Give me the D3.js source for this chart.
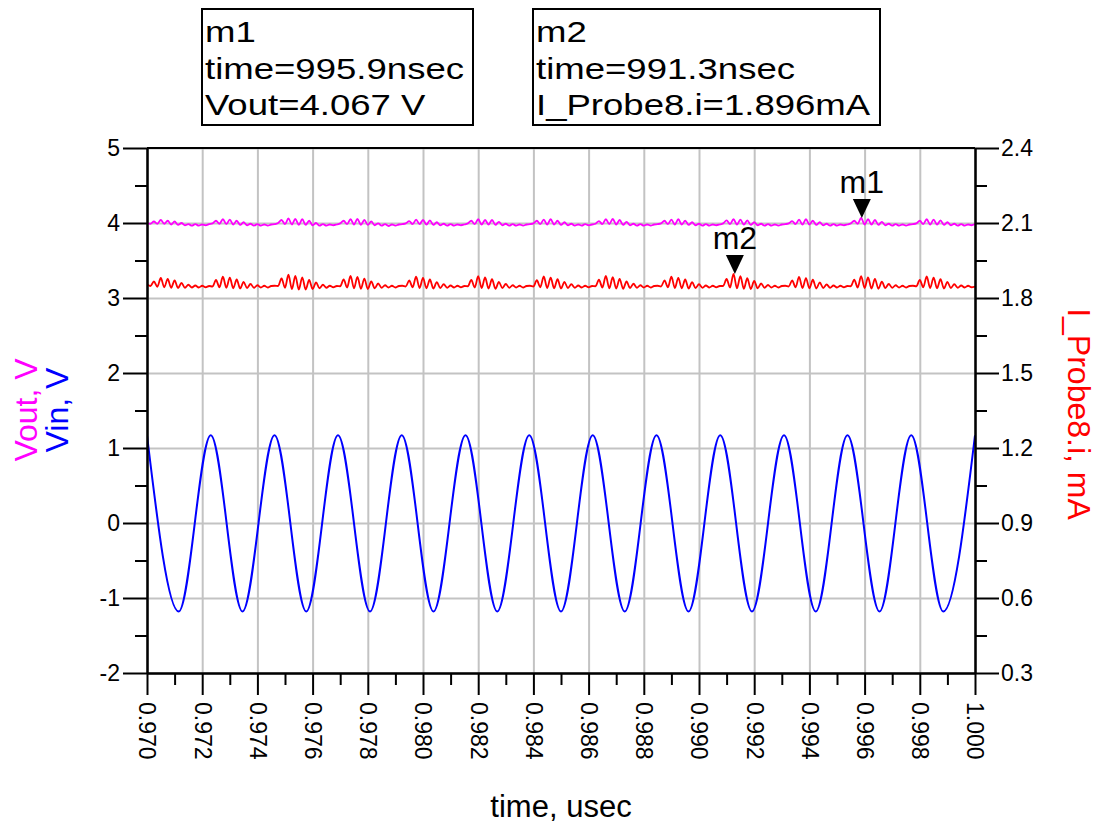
<!DOCTYPE html>
<html>
<head>
<meta charset="utf-8">
<script src="https://cdn.jsdelivr.net/npm/d3@7"></script>
<style>
  body { margin: 0; background: #fff; }
  svg { display: block; font-family: "Liberation Sans", Arial, sans-serif; }
</style>
</head>
<body>
<script>
// tick labels
var xTickValues = [0.970, 0.972, 0.974, 0.976, 0.978, 0.980, 0.982, 0.984, 0.986, 0.988, 0.990, 0.992, 0.994, 0.996, 0.998, 1.000];
var leftTickValues = [-2, -1, 0, 1, 2, 3, 4, 5];
var rightTickValues = [0.3, 0.6, 0.9, 1.2, 1.5, 1.8, 2.1, 2.4];

// Vin, peaks and troughs (usec, V)
var vinTime = [0.97000, 0.97115, 0.97231, 0.97346, 0.97462, 0.97577, 0.97692, 0.97808, 0.97923, 0.98038,
  0.98154, 0.98269, 0.98385, 0.98500, 0.98615, 0.98731, 0.98846, 0.98962, 0.99077, 0.99192,
  0.99308, 0.99423, 0.99538, 0.99654, 0.99769, 0.99885, 1.00000];
var vinVolt = [1.17, -1.18, 1.17, -1.18, 1.17, -1.18, 1.17, -1.18, 1.17, -1.18,
  1.17, -1.18, 1.17, -1.18, 1.17, -1.18, 1.17, -1.18, 1.17, -1.18,
  1.17, -1.18, 1.17, -1.18, 1.17, -1.18, 1.17];

// Vout and I_Probe8.i, one value every 0.125 nsec starting at 970 nsec
var sampleStart = 0.970;
var sampleStep = 0.000125;

var voutVolt = [
  4.00,3.99,4.02,3.99,4.04,3.99,4.03,3.98,4.02,3.975,4.00,3.97,3.985,3.965,3.985,3.965,3.98,3.97,
  3.985,3.995,4.03,3.99,4.05,3.985,4.045,3.98,4.03,3.975,4.01,3.97,3.99,3.965,3.985,3.965,3.98,3.965,3.98,
  3.985,4.00,4.04,3.985,4.06,3.98,4.055,3.975,4.05,3.975,4.03,3.97,4.00,3.965,3.985,3.965,3.98,3.97,
  3.98,3.995,4.03,3.985,4.05,3.98,4.055,3.975,4.04,3.975,4.02,3.97,3.995,3.965,3.985,3.96,3.98,3.965,3.98,
  3.985,3.995,4.025,3.985,4.045,3.985,4.04,3.98,4.035,3.975,4.01,3.97,3.99,3.965,3.985,3.965,3.98,3.97,
  3.98,3.995,4.03,3.985,4.05,3.98,4.04,3.98,4.04,3.975,4.015,3.97,3.99,3.965,3.985,3.965,3.98,3.965,3.98,
  3.985,3.995,4.03,3.985,4.045,3.98,4.05,3.98,4.03,3.975,4.01,3.97,3.99,3.965,3.98,3.965,3.985,3.97,
  3.98,3.99,4.025,3.985,4.05,3.985,4.055,3.98,4.04,3.975,4.015,3.97,3.99,3.965,3.985,3.965,3.98,3.965,3.98,
  3.985,3.995,4.03,3.985,4.045,3.98,4.05,3.98,4.03,3.975,4.01,3.97,3.99,3.965,3.985,3.965,3.98,3.97,
  3.98,3.995,4.035,3.985,4.05,3.98,4.045,3.98,4.035,3.975,4.01,3.97,3.99,3.965,3.985,3.965,3.98,3.965,3.98,
  3.985,3.995,4.025,3.985,4.045,3.98,4.05,3.98,4.03,3.975,4.01,3.97,3.99,3.965,3.985,3.965,3.98,3.97,
  3.98,3.995,4.03,3.99,4.067,3.98,4.05,3.98,4.04,3.975,4.015,3.97,3.99,3.965,3.985,3.965,3.98,3.965,3.98,
  3.985,3.995,4.03,3.985,4.05,3.98,4.045,3.98,4.035,3.975,4.01,3.97,3.99,3.965,3.985,3.965,3.98,3.97,
  3.985
];

var probeCurrent = [
  1.855,1.848,1.866,1.845,1.880,1.843,1.876,1.841,1.870,1.840,1.860,1.841,1.853,1.842,1.850,1.842,1.849,1.843,
  1.848,1.846,1.872,1.843,1.885,1.841,1.881,1.839,1.874,1.838,1.864,1.840,1.856,1.841,1.851,1.842,1.849,1.842,1.848,
  1.849,1.848,1.878,1.841,1.893,1.836,1.888,1.834,1.882,1.834,1.872,1.836,1.862,1.839,1.853,1.841,1.849,1.843,
  1.848,1.847,1.874,1.842,1.888,1.839,1.884,1.837,1.877,1.836,1.866,1.839,1.858,1.841,1.851,1.842,1.849,1.842,1.848,
  1.849,1.846,1.870,1.843,1.885,1.840,1.880,1.839,1.874,1.838,1.863,1.840,1.855,1.841,1.850,1.842,1.849,1.843,
  1.848,1.847,1.872,1.842,1.887,1.840,1.882,1.838,1.875,1.837,1.864,1.840,1.856,1.841,1.851,1.842,1.849,1.842,1.848,
  1.849,1.846,1.871,1.843,1.886,1.840,1.881,1.839,1.875,1.838,1.864,1.840,1.855,1.841,1.850,1.842,1.849,1.843,
  1.848,1.847,1.873,1.842,1.888,1.839,1.883,1.838,1.876,1.837,1.866,1.840,1.857,1.841,1.851,1.842,1.849,1.842,1.848,
  1.849,1.846,1.870,1.843,1.885,1.840,1.880,1.839,1.874,1.838,1.863,1.840,1.855,1.841,1.850,1.842,1.849,1.843,
  1.848,1.848,1.876,1.842,1.896,1.839,1.887,1.837,1.879,1.836,1.868,1.839,1.858,1.841,1.852,1.842,1.849,1.842,1.848,
  1.849,1.846,1.870,1.843,1.884,1.840,1.879,1.839,1.873,1.838,1.862,1.840,1.854,1.841,1.850,1.842,1.849,1.843,
  1.848,1.847,1.873,1.842,1.887,1.840,1.882,1.838,1.876,1.837,1.865,1.840,1.856,1.841,1.851,1.842,1.849,1.842,1.848,
  1.849,1.847,1.872,1.843,1.886,1.840,1.881,1.839,1.875,1.838,1.864,1.840,1.855,1.841,1.850,1.842,1.849,1.843,
  1.846
];

// markers
var markerNames = ["m1", "m2"];
var markerTime = [0.9959, 0.9913];
var markerValue = [4.067, 1.896];
var markerSide = ["left", "right"];
var markerLines = [
  ["m1", "time=995.9nsec", "Vout=4.067 V"],
  ["m2", "time=991.3nsec", "I_Probe8.i=1.896mA"]
];

var svgWidth = 1097;
var svgHeight = 823;
var plot = { left: 147, right: 975, top: 148, bottom: 673 };
var plotH = plot.bottom - plot.top;
var plotW = plot.right - plot.left;

var svg = d3.select("body")
  .append("svg")
  .attr("width", svgWidth)
  .attr("height", svgHeight);

var x = d3.scaleLinear().domain([0.970, 1.000]).range([plot.left, plot.right]);
var yLeft = d3.scaleLinear().domain([-2, 5]).range([plot.bottom, plot.top]);
var yRight = d3.scaleLinear().domain([0.3, 2.4]).range([plot.bottom, plot.top]);

// grid lines
svg.append("g")
  .attr("transform", `translate(0, ${plot.bottom})`)
  .call(d3.axisBottom(x).tickValues(xTickValues).tickSize(-plotH).tickFormat(""))
  .call(g => g.select(".domain").remove())
  .selectAll("line").attr("stroke", "#c3c3c3").attr("stroke-width", 2);

svg.append("g")
  .attr("transform", `translate(${plot.left}, 0)`)
  .call(d3.axisLeft(yLeft).tickValues(leftTickValues).tickSize(-plotW).tickFormat(""))
  .call(g => g.select(".domain").remove())
  .selectAll("line").attr("stroke", "#c3c3c3").attr("stroke-width", 2);

// traces
svg.append("clipPath").attr("id", "plotclip")
  .append("rect")
  .attr("x", plot.left).attr("y", plot.top)
  .attr("width", plotW).attr("height", plotH);

var traces = svg.append("g").attr("clip-path", "url(#plotclip)");

var vinLine = d3.line()
  .x((d, i) => x(vinTime[i]))
  .y(d => yLeft(d))
  .curve(d3.curveMonotoneX);

traces.append("path")
  .attr("d", vinLine(vinVolt))
  .attr("fill", "none")
  .attr("stroke", "#0000ff")
  .attr("stroke-width", 2);

var voutLine = d3.line()
  .x((d, i) => x(sampleStart + i * sampleStep))
  .y(d => yLeft(d))
  .curve(d3.curveMonotoneX);

traces.append("path")
  .attr("d", voutLine(voutVolt))
  .attr("fill", "none")
  .attr("stroke", "#ff00ff")
  .attr("stroke-width", 1.8);

var probeLine = d3.line()
  .x((d, i) => x(sampleStart + i * sampleStep))
  .y(d => yRight(d))
  .curve(d3.curveMonotoneX);

traces.append("path")
  .attr("d", probeLine(probeCurrent))
  .attr("fill", "none")
  .attr("stroke", "#ff0000")
  .attr("stroke-width", 1.8);

// axes
function styleAxis(g) {
  g.select(".domain").attr("stroke", "#000").attr("stroke-width", 2);
  g.selectAll("line").attr("stroke", "#000").attr("stroke-width", 2);
  g.selectAll("text")
    .attr("fill", "#000")
    .style("font-size", "23px")
    .style("font-family", "'Liberation Sans', Arial, sans-serif");
}

function midpoints(vals) {
  var out = [];
  for (var i = 0; i < vals.length - 1; i++) out.push((vals[i] + vals[i + 1]) / 2);
  return out;
}

// left
svg.append("g")
  .attr("transform", `translate(${plot.left}, 0)`)
  .call(d3.axisLeft(yLeft).tickValues(midpoints(leftTickValues)).tickSize(12).tickSizeOuter(0).tickFormat(""))
  .call(styleAxis);
svg.append("g")
  .attr("transform", `translate(${plot.left}, 0)`)
  .call(d3.axisLeft(yLeft).tickValues(leftTickValues).tickSize(24).tickSizeOuter(0).tickPadding(3).tickFormat(d => String(d)))
  .call(styleAxis);

// right
svg.append("g")
  .attr("transform", `translate(${plot.right}, 0)`)
  .call(d3.axisRight(yRight).tickValues(midpoints(rightTickValues)).tickSize(12).tickSizeOuter(0).tickFormat(""))
  .call(styleAxis);
svg.append("g")
  .attr("transform", `translate(${plot.right}, 0)`)
  .call(d3.axisRight(yRight).tickValues(rightTickValues).tickSize(24).tickSizeOuter(0).tickPadding(2).tickFormat(d3.format(".1f")))
  .call(styleAxis);

// bottom
svg.append("g")
  .attr("transform", `translate(0, ${plot.bottom})`)
  .call(d3.axisBottom(x).tickValues(midpoints(xTickValues)).tickSize(12).tickSizeOuter(0).tickFormat(""))
  .call(styleAxis);
svg.append("g")
  .attr("transform", `translate(0, ${plot.bottom})`)
  .call(d3.axisBottom(x).tickValues(xTickValues).tickSize(22).tickSizeOuter(0).tickFormat(d3.format(".3f")))
  .call(styleAxis)
  .selectAll("text")
  .attr("x", 0).attr("y", 0)
  .attr("dy", "0.35em")
  .attr("text-anchor", "start")
  .attr("transform", "translate(0, 29) rotate(90)");

// top frame line
svg.append("line")
  .attr("x1", plot.left).attr("x2", plot.right)
  .attr("y1", plot.top).attr("y2", plot.top)
  .attr("stroke", "#000").attr("stroke-width", 2);

// axis titles
svg.append("text")
  .attr("transform", "translate(37, 410) rotate(-90)")
  .attr("text-anchor", "middle")
  .attr("fill", "#ff00ff")
  .style("font-size", "32px")
  .text("Vout, V");

svg.append("text")
  .attr("transform", "translate(68, 410) rotate(-90)")
  .attr("text-anchor", "middle")
  .attr("fill", "#0000ff")
  .style("font-size", "32px")
  .text("Vin, V");

svg.append("text")
  .attr("transform", "translate(1068, 414) rotate(90)")
  .attr("text-anchor", "middle")
  .attr("fill", "#ff0000")
  .style("font-size", "32px")
  .text("I_Probe8.i, mA");

svg.append("text")
  .attr("x", (plot.left + plot.right) / 2)
  .attr("y", 817)
  .attr("text-anchor", "middle")
  .attr("fill", "#000")
  .style("font-size", "31px")
  .text("time, usec");

// marker triangles and names
markerNames.forEach(function(name, i) {
  var px = x(markerTime[i]);
  var py = markerSide[i] === "left" ? yLeft(markerValue[i]) : yRight(markerValue[i]);
  svg.append("path")
    .attr("d", `M${px - 9},${py - 19} L${px + 9},${py - 19} L${px},${py} Z`)
    .attr("fill", "#000");
  svg.append("text")
    .attr("x", px)
    .attr("y", py - 25)
    .attr("text-anchor", "middle")
    .attr("fill", "#000")
    .style("font-size", "32px")
    .text(name);
});

// marker readout boxes
var boxes = [
  { x: 202, y: 9, w: 271, h: 116 },
  { x: 533, y: 9, w: 347, h: 116 }
];
var lineBase = [42, 79, 115];

markerLines.forEach(function(lines, i) {
  var b = boxes[i];
  svg.append("rect")
    .attr("x", b.x).attr("y", b.y)
    .attr("width", b.w).attr("height", b.h)
    .attr("fill", "#fff")
    .attr("stroke", "#000")
    .attr("stroke-width", 2);
  lines.forEach(function(txt, j) {
    var t = svg.append("text")
      .attr("x", b.x + 3)
      .attr("y", lineBase[j])
      .attr("fill", "#000")
      .style("font-size", "29px")
      .text(txt);
    // the readout font is drawn wider than plain Arial
    var w = t.node().getComputedTextLength();
    t.attr("textLength", w * 1.26).attr("lengthAdjust", "spacingAndGlyphs");
  });
});
</script>
</body>
</html>
